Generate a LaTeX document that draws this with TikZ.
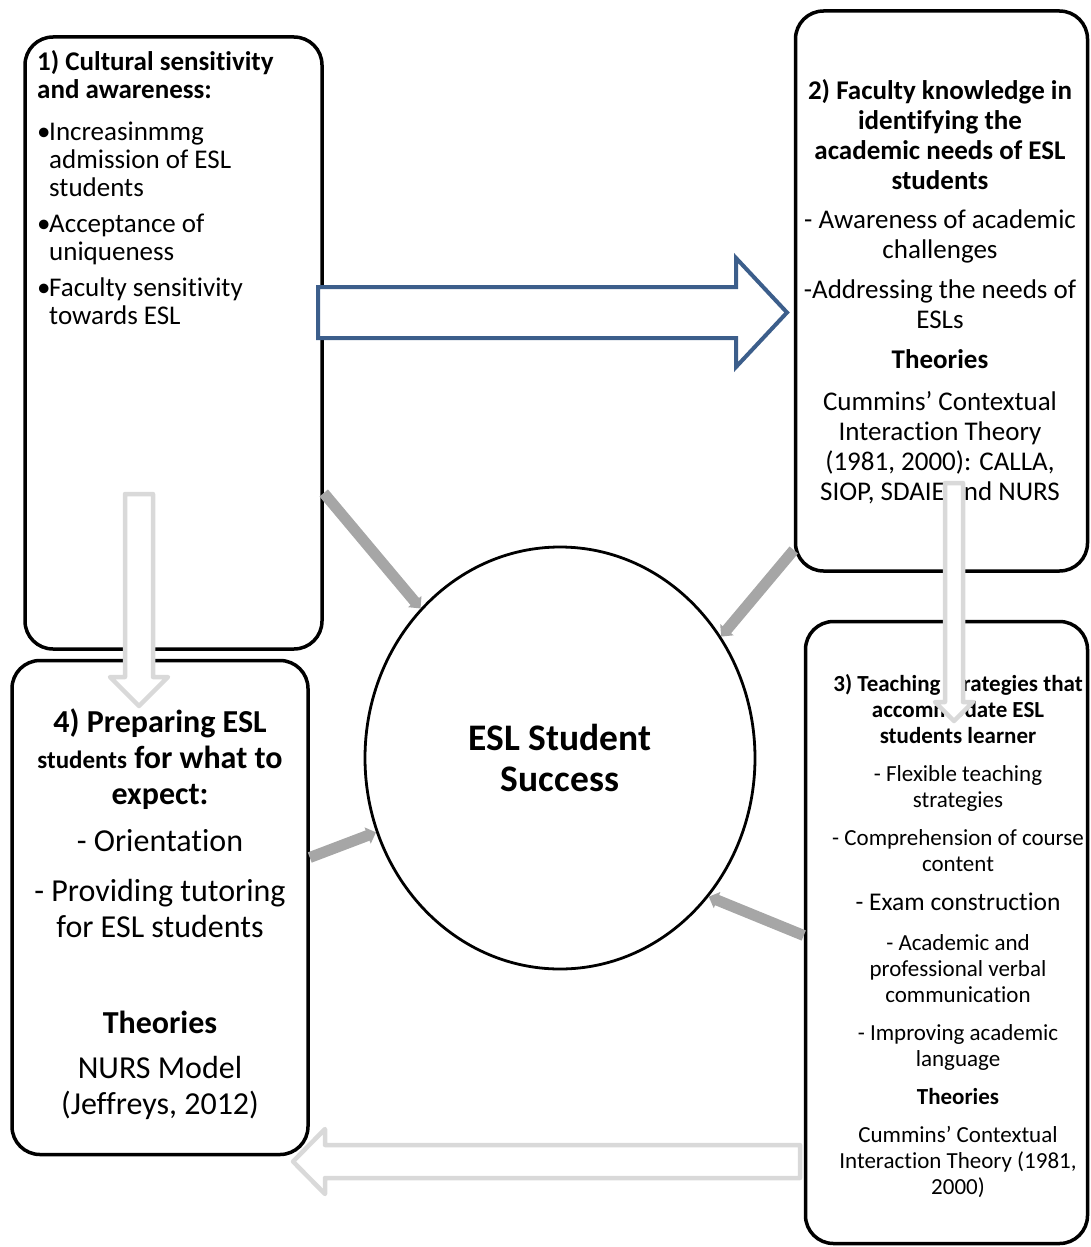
\documentclass[tikz,border=0pt]{standalone}
\usepackage{fontspec}
\setmainfont{Carlito}[Ligatures=NoCommon]
\usetikzlibrary{arrows.meta,shapes.geometric}

\definecolor{flowblue}{HTML}{3C5E8B}
\definecolor{flowpale}{HTML}{D9D9D9}
\definecolor{linkgray}{HTML}{A6A6A6}

\newcommand{\fsz}[2]{\fontsize{#1pt}{#2pt}\selectfont}
\newcommand{\bul}{\makebox[12pt][l]{•}}
\newcommand{\ind}{\hspace*{12pt}}

\tikzset{
  panel/.style={draw=black, line width=3.5pt, rounded corners=28pt, inner sep=0pt},
  paneltext/.style={inner sep=0pt, anchor=north, align=center},
  hub/.style={ellipse, draw=black, line width=2.8pt, inner sep=0pt},
  link/.style={draw=linkgray, line width=11pt, -{Triangle[length=9pt,width=17pt]}},
  bigarrow/.style={draw=flowblue, line width=4pt, fill=white},
  palearrow/.style={draw=flowpale, line width=4.5pt, fill=white, line join=round},
}

\begin{document}
\begin{tikzpicture}[x=1pt,y=-1pt]
\useasboundingbox (0,0) rectangle (1090,1247);

% boxes
\node[panel, minimum width=297pt, minimum height=612pt] (b1) at (173.5,343) {};
\node[panel, minimum width=292pt, minimum height=560pt] (b2) at (941.5,291) {};
\node[panel, minimum width=282pt, minimum height=622pt] (b3) at (946.5,932.5) {};
\node[panel, minimum width=296pt, minimum height=494pt] (b4) at (160,907.5) {};

% box texts
\node[paneltext, anchor=north west, align=left, font=\fsz{27}{28}] (t1) at (37,50)
  {\textbf{1) Cultural sensitivity}\\\textbf{and awareness:}\\[14pt]\bul Increasinmmg\\\ind admission of ESL\\\ind students\\[8pt]\bul Acceptance of\\\ind uniqueness\\[8pt]\bul Faculty sensitivity\\\ind towards ESL};
\node[paneltext, font=\fsz{27}{30}] (t2) at (940,79)
  {\textbf{2) Faculty knowledge in}\\\textbf{identifying the}\\\textbf{academic needs of ESL}\\\textbf{students}\\[9pt]- Awareness of academic\\challenges\\[10pt]-Addressing the needs of\\ESLs\\[10pt]\textbf{Theories}\\[12pt]Cummins’ Contextual\\Interaction Theory\\(1981, 2000): CALLA,\\SIOP, SDAIE and NURS};
\node[paneltext, font=\fsz{23}{26}] (t3) at (958,674)
  {\textbf{3) Teaching strategies that}\\\textbf{accommodate ESL}\\\textbf{students learner}\\[12pt]- Flexible teaching\\strategies\\[12pt]- Comprehension of course\\content\\[13pt]{\fsz{25.5}{27}- Exam construction}\\[14pt]- Academic and\\professional verbal\\communication\\[12pt]- Improving academic\\language\\[12pt]\textbf{Theories}\\[12pt]Cummins’ Contextual\\Interaction Theory (1981,\\2000)};
\node[paneltext, font=\fsz{32}{36}] (t4) at (160,709)
  {\textbf{4) Preparing ESL}\\\textbf{{\fsz{25}{36}students} for what to}\\\textbf{expect:}\\[11pt]- Orientation\\[14pt]- Providing tutoring\\for ESL students\\[60pt]\textbf{Theories}\\[9pt]NURS Model\\(Jeffreys, 2012)};

% centre
\node[hub, minimum width=390pt, minimum height=422pt, align=center, font=\fsz{37.5}{41}\bfseries] (hub) at (560,758) {ESL Student\\Success};

% links into the centre
\draw[link] ([yshift=-150pt]b1.east) -- (hub.133);
\draw[link] ([yshift=-259pt]b2.west) -- (hub.37);
\draw[link] ([yshift=50pt]b4.east) -- (hub.202);
\draw[link] ([yshift=-3pt]b3.west) -- (hub.-43);

% block arrows between boxes
\draw[bigarrow] (318,287) -- (736,287) -- (736,258) -- (787,312.5) -- (736,367) -- (736,338) -- (318,338) -- cycle;
\draw[palearrow] (125,494) -- (153,494) -- (153,677) -- (168,677) -- (139,706) -- (110,677) -- (125,677) -- cycle;
\draw[palearrow] (945,483) -- (963,483) -- (963,702) -- (973,702) -- (954,721) -- (935,702) -- (945,702) -- cycle;
\draw[palearrow] (800,1145) -- (325,1145) -- (325,1129) -- (293,1161.5) -- (325,1194) -- (325,1178) -- (800,1178) -- cycle;
\end{tikzpicture}
\end{document}
